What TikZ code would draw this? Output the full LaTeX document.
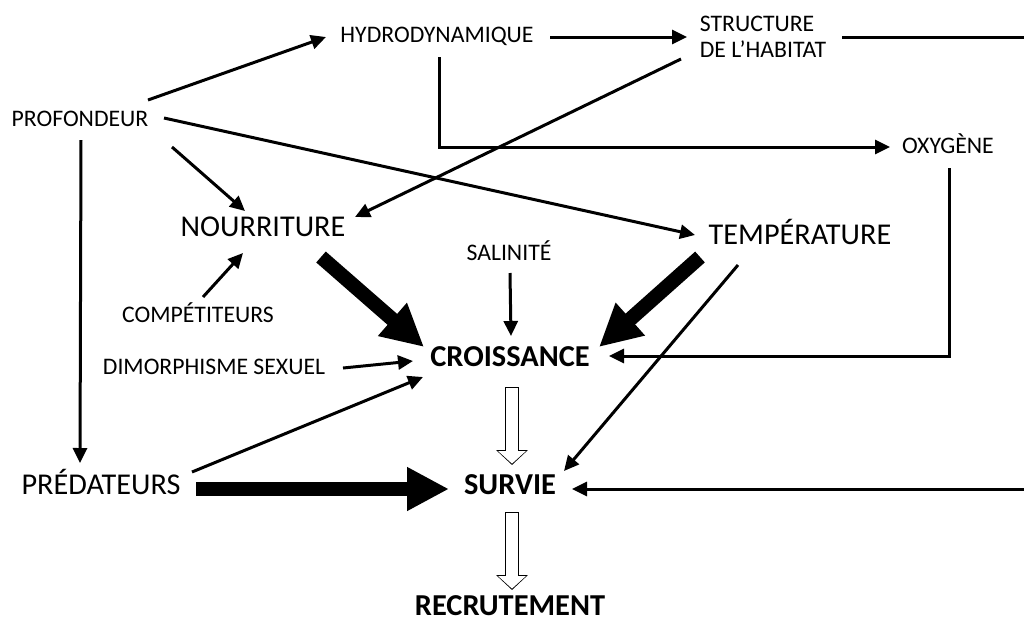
\documentclass[tikz,border=0pt]{standalone}
\usepackage{fontspec}
\setmainfont{Carlito}
\usetikzlibrary{arrows.meta,calc}

\begin{document}
\begin{tikzpicture}[x=0.2mm,y=-0.2mm,
  lab/.style={inner sep=0pt,text height=0.644em,text depth=0pt,font=\fontsize{13.5}{14.8}\selectfont},
  biglab/.style={lab,font=\fontsize{17.2}{20}\selectfont},
  keylab/.style={lab,font=\fontsize{17.3}{20}\selectfont\bfseries},
  link/.style={line width=0.6mm,-{Triangle[length=3mm,width=2.8mm]}},
  heavy/.style={line width=2.9mm,-{Triangle[length=8.4mm,width=8.2mm]}},
  hollowout/.style={line width=2.8mm,-{Triangle[length=3mm,width=6.2mm]}},
  hollowin/.style={white,line width=2.4mm,shorten <=0.2mm,shorten >=0.28mm,-{Triangle[length=2.5mm,width=5.4mm]}}]
\useasboundingbox (0,0) rectangle (1024,621);
\node[lab] (prof) at (80,121) {PROFONDEUR};
\node[lab] (hydro) at (437,37) {HYDRODYNAMIQUE};
\node[inner sep=0pt,align=left,font=\fontsize{13.5}{14.8}\selectfont] (habitat) at (763,37) {STRUCTURE\\DE L’HABITAT};
\node[lab] (oxy) at (948,148) {OXYGÈNE};
\node[biglab] (food) at (263,231) {NOURRITURE};
\node[biglab] (temp) at (800,239) {TEMPÉRATURE};
\node[lab] (sal) at (509,255) {SALINITÉ};
\node[lab] (comp) at (198,317) {COMPÉTITEURS};
\node[lab] (dimo) at (214,369) {DIMORPHISME SEXUEL};
\node[keylab] (growth) at (510,361) {CROISSANCE};
\node[biglab] (pred) at (101,489) {PRÉDATEURS};
\node[keylab] (surv) at (510,489) {SURVIE};
\node[keylab] (recr) at (510,610) {RECRUTEMENT};
\coordinate (rimtop) at (1024,37);
\coordinate (rimbot) at (1024,489);
\draw[link] ($(prof)+(68,-21)$) -- ($(hydro)+(-111,0)$);
\draw[link] ($(hydro)+(113,0)$) -- ($(habitat)+(-76,0)$);
\draw[line width=0.6mm] ($(habitat)+(79,0)$) -- (rimtop);
\draw[link] ($(hydro)+(2,20)$) |- ($(oxy)+(-58,-1)$);
\draw[link] ($(habitat)+(-82,22)$) -- ($(food)+(92,-14)$);
\draw[link] ($(prof)+(84,-3)$) -- ($(temp)+(-105,-4)$);
\draw[link] ($(prof)+(92,26)$) -- ($(food)+(-18,-20)$);
\draw[link] ($(prof)+(1,19)$) -- ($(pred)+(-21,-26)$);
\draw[link] ($(comp)+(5,-20)$) -- ($(food)+(-20,22)$);
\draw[heavy] ($(food)+(58,26)$) -- ($(growth)+(-86,-14)$);
\draw[link] ($(sal)+(1,18)$) -- ($(growth)+(1,-25)$);
\draw[heavy] ($(temp)+(-100,18)$) -- ($(growth)+(89,-14)$);
\draw[link] ($(oxy)+(1,20)$) |- ($(growth)+(99,-5)$);
\draw[link] ($(dimo)+(129,-1)$) -- ($(growth)+(-97,0)$);
\draw[link] ($(pred)+(91,-17)$) -- ($(growth)+(-87,16)$);
\draw[link] ($(temp)+(-62,26)$) -- ($(surv)+(54,-18)$);
\draw[heavy] ($(pred)+(95,0)$) -- ($(surv)+(-61,0)$);
\draw[link] (rimbot) -- ($(surv)+(62,0)$);
\draw[hollowout] ($(growth)+(2,26)$) -- ($(surv)+(2,-24)$);
\draw[hollowin] ($(growth)+(2,26)$) -- ($(surv)+(2,-24)$);
\draw[hollowout] ($(surv)+(2,23)$) -- ($(recr)+(2,-20)$);
\draw[hollowin] ($(surv)+(2,23)$) -- ($(recr)+(2,-20)$);
\end{tikzpicture}
\end{document}
